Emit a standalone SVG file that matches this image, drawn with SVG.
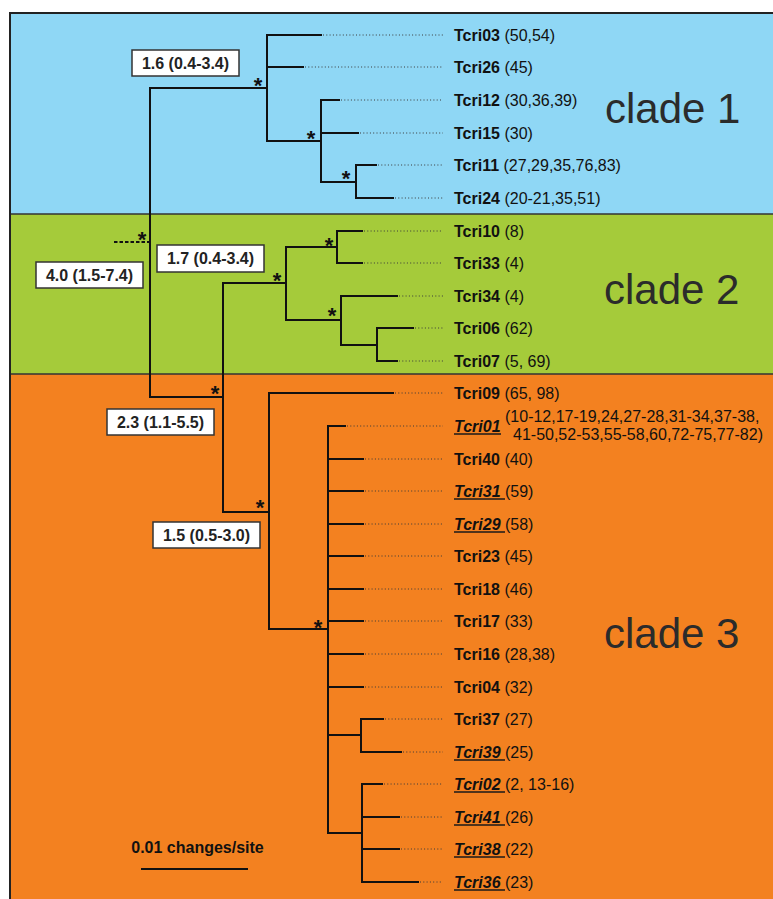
<svg xmlns="http://www.w3.org/2000/svg" width="773" height="899" viewBox="0 0 773 899">
  <style>
    .br{fill:none;stroke:#111;stroke-width:2;stroke-linecap:square}
    .dot{fill:none;stroke:#3a3a3a;stroke-width:1;stroke-dasharray:1 2.3}
    .stub{fill:none;stroke:#111;stroke-width:2;stroke-dasharray:3.5 2}
    .tip{font-family:"Liberation Sans",Arial,sans-serif;font-size:16px;fill:#111}
    .nm{font-weight:bold}
    .it{font-weight:bold;font-style:italic}
    .ul{stroke:#1a1a1a;stroke-width:1.3}
    .box rect{fill:#fff;stroke:#333;stroke-width:1.5}
    .box text{font-family:"Liberation Sans",Arial,sans-serif;font-size:16px;font-weight:bold;text-anchor:middle;fill:#222}
    .ast{font-family:"Liberation Sans",Arial,sans-serif;font-size:22px;font-weight:bold;text-anchor:middle;fill:#111}
    .clade{font-family:"Liberation Sans",Arial,sans-serif;font-size:42px;fill:#2b2b2b}
  </style>

  <!-- clade bands -->
  <g id="bands">
    <rect x="10" y="13" width="780" height="201" fill="#8fd7f5"/>
    <rect x="10" y="214" width="780" height="160" fill="#a5cb3a"/>
    <rect x="10" y="374" width="780" height="530" fill="#f38120"/>
    <line x1="10" y1="214" x2="773" y2="214" stroke="#333" stroke-width="1.5"/>
    <line x1="10" y1="374" x2="773" y2="374" stroke="#333" stroke-width="1.5"/>
    <rect x="10" y="13" width="800" height="900" fill="none" stroke="#222" stroke-width="2"/>
  </g>

  <!-- tree branches -->
  <g id="connectors">
    <path class="stub" d="M114,242 H149"/>
    <path class="br" d="M150,88 V397 M150,88 H267 M150,397 H223"/>
    <!-- clade 1 -->
    <path class="br" d="M267,35 V141 M267,35 H321 M267,67 H303 M267,141 H321"/>
    <path class="br" d="M321,100 V182 M321,100 H339 M321,133 H358 M321,182 H356"/>
    <path class="br" d="M356,165 V198 M356,165 H376 M356,198 H393"/>
    <!-- clades 2 + 3 -->
    <path class="br" d="M223,283 V512 M223,283 H286 M223,512 H269"/>
    <path class="br" d="M286,247 V320 M286,247 H337 M286,320 H341"/>
    <path class="br" d="M337,231 V263 M337,231 H362 M337,263 H362"/>
    <path class="br" d="M341,296 V345 M341,296 H397 M341,345 H377"/>
    <path class="br" d="M377,328 V361 M377,328 H413 M377,361 H397"/>
    <path class="br" d="M269,393 V629 M269,393 H393 M269,629 H328"/>
    <path class="br" d="M328,426 V833 M328,426 H345 M328,459 H363 M328,491 H363 M328,524 H363 M328,556 H363 M328,589 H363 M328,621 H363 M328,654 H363 M328,687 H363 M328,735 H361 M328,833 H362"/>
    <path class="br" d="M361,719 V752 M361,719 H383 M361,752 H401"/>
    <path class="br" d="M362,784 V882 M362,784 H382 M362,817 H399 M362,849 H399 M362,882 H418"/>
    <!-- leader dots to the tip labels -->
    <path class="dot" d="M323,35 H443 M305,67 H443 M341,100 H443 M360,133 H443 M378,165 H443 M395,198 H443
      M364,231 H443 M364,263 H443 M399,296 H443 M415,328 H443 M399,361 H443
      M395,393 H443 M347,426 H443 M365,459 H443 M365,491 H443 M365,524 H443 M365,556 H443 M365,589 H443
      M365,621 H443 M365,654 H443 M365,687 H443 M385,719 H443 M403,752 H443
      M384,784 H443 M401,817 H443 M401,849 H443 M420,882 H443"/>
  </g>

  <!-- support asterisks -->
  <g id="support">
    <text class="ast" x="258" y="92.8">*</text>
    <text class="ast" x="311" y="145.8">*</text>
    <text class="ast" x="346" y="185.8">*</text>
    <text class="ast" x="142" y="246.8">*</text>
    <text class="ast" x="329" y="252.8">*</text>
    <text class="ast" x="277" y="287.8">*</text>
    <text class="ast" x="332" y="322.8">*</text>
    <text class="ast" x="215" y="400.8">*</text>
    <text class="ast" x="260" y="514.8">*</text>
    <text class="ast" x="318" y="634.8">*</text>
  </g>

  <!-- node age boxes -->
  <g id="age-1" class="box"><rect x="132" y="50" width="107" height="26"/><text x="185.5" y="68.5">1.6 (0.4-3.4)</text></g>
  <g id="age-root" class="box"><rect x="36" y="262" width="107" height="26"/><text x="89.5" y="280.5">4.0 (1.5-7.4)</text></g>
  <g id="age-2" class="box"><rect x="157" y="245" width="107" height="27"/><text x="210.5" y="263.5">1.7 (0.4-3.4)</text></g>
  <g id="age-23" class="box"><rect x="107" y="409" width="107" height="26"/><text x="160.5" y="427.5">2.3 (1.1-5.5)</text></g>
  <g id="age-3" class="box"><rect x="153" y="522" width="107" height="26"/><text x="206.5" y="540.5">1.5 (0.5-3.0)</text></g>

  <!-- clade 1 tips -->
  <g id="Tcri03"><text class="tip" x="454" y="40.5"><tspan class="nm">Tcri03</tspan> (50,54)</text></g>
  <g id="Tcri26"><text class="tip" x="454" y="72.5"><tspan class="nm">Tcri26</tspan> (45)</text></g>
  <g id="Tcri12"><text class="tip" x="454" y="105.5"><tspan class="nm">Tcri12</tspan> (30,36,39)</text></g>
  <g id="Tcri15"><text class="tip" x="454" y="138.5"><tspan class="nm">Tcri15</tspan> (30)</text></g>
  <g id="Tcri11"><text class="tip" x="454" y="170.5"><tspan class="nm">Tcri11</tspan> (27,29,35,76,83)</text></g>
  <g id="Tcri24"><text class="tip" x="454" y="203.5"><tspan class="nm">Tcri24</tspan> (20-21,35,51)</text></g>

  <!-- clade 2 tips -->
  <g id="Tcri10"><text class="tip" x="454" y="236.5"><tspan class="nm">Tcri10</tspan> (8)</text></g>
  <g id="Tcri33"><text class="tip" x="454" y="268.5"><tspan class="nm">Tcri33</tspan> (4)</text></g>
  <g id="Tcri34"><text class="tip" x="454" y="301.5"><tspan class="nm">Tcri34</tspan> (4)</text></g>
  <g id="Tcri06"><text class="tip" x="454" y="333.5"><tspan class="nm">Tcri06</tspan> (62)</text></g>
  <g id="Tcri07"><text class="tip" x="454" y="366.5"><tspan class="nm">Tcri07</tspan> (5, 69)</text></g>

  <!-- clade 3 tips -->
  <g id="Tcri09"><text class="tip" x="454" y="398.5"><tspan class="nm">Tcri09</tspan> (65, 98)</text></g>
  <g id="Tcri01">
    <text class="tip" x="454" y="431.5"><tspan class="it">Tcri01</tspan></text>
    <line class="ul" x1="454" y1="434" x2="501" y2="434"/>
    <text class="tip" x="505" y="422">(10-12,17-19,24,27-28,31-34,37-38,</text>
    <text class="tip" x="513" y="440">41-50,52-53,55-58,60,72-75,77-82)</text>
  </g>
  <g id="Tcri40"><text class="tip" x="454" y="464.5"><tspan class="nm">Tcri40</tspan> (40)</text></g>
  <g id="Tcri31"><text class="tip" x="454" y="496.5"><tspan class="it">Tcri31</tspan> (59)</text><line class="ul" x1="454" y1="499" x2="505" y2="499"/></g>
  <g id="Tcri29"><text class="tip" x="454" y="529.5"><tspan class="it">Tcri29</tspan> (58)</text><line class="ul" x1="454" y1="532" x2="505" y2="532"/></g>
  <g id="Tcri23"><text class="tip" x="454" y="561.5"><tspan class="nm">Tcri23</tspan> (45)</text></g>
  <g id="Tcri18"><text class="tip" x="454" y="594.5"><tspan class="nm">Tcri18</tspan> (46)</text></g>
  <g id="Tcri17"><text class="tip" x="454" y="626.5"><tspan class="nm">Tcri17</tspan> (33)</text></g>
  <g id="Tcri16"><text class="tip" x="454" y="659.5"><tspan class="nm">Tcri16</tspan> (28,38)</text></g>
  <g id="Tcri04"><text class="tip" x="454" y="692.5"><tspan class="nm">Tcri04</tspan> (32)</text></g>
  <g id="Tcri37"><text class="tip" x="454" y="724.5"><tspan class="nm">Tcri37</tspan> (27)</text></g>
  <g id="Tcri39"><text class="tip" x="454" y="757.5"><tspan class="it">Tcri39</tspan> (25)</text><line class="ul" x1="454" y1="760" x2="505" y2="760"/></g>
  <g id="Tcri02"><text class="tip" x="454" y="789.5"><tspan class="it">Tcri02</tspan> (2, 13-16)</text><line class="ul" x1="454" y1="792" x2="505" y2="792"/></g>
  <g id="Tcri41"><text class="tip" x="454" y="822.5"><tspan class="it">Tcri41</tspan> (26)</text><line class="ul" x1="454" y1="825" x2="505" y2="825"/></g>
  <g id="Tcri38"><text class="tip" x="454" y="854.5"><tspan class="it">Tcri38</tspan> (22)</text><line class="ul" x1="454" y1="857" x2="505" y2="857"/></g>
  <g id="Tcri36"><text class="tip" x="454" y="887.5"><tspan class="it">Tcri36</tspan> (23)</text><line class="ul" x1="454" y1="890" x2="505" y2="890"/></g>

  <!-- clade names -->
  <g id="clade-names">
    <text class="clade" x="605" y="123">clade 1</text>
    <text class="clade" x="604" y="304">clade 2</text>
    <text class="clade" x="604" y="648">clade 3</text>
  </g>

  <!-- scale bar -->
  <g id="scale">
    <text x="197.5" y="853" font-family="Liberation Sans, Arial, sans-serif" font-size="16" font-weight="bold" text-anchor="middle" fill="#111">0.01 changes/site</text>
    <line x1="141" y1="869" x2="248" y2="869" stroke="#111" stroke-width="2"/>
  </g>
</svg>
